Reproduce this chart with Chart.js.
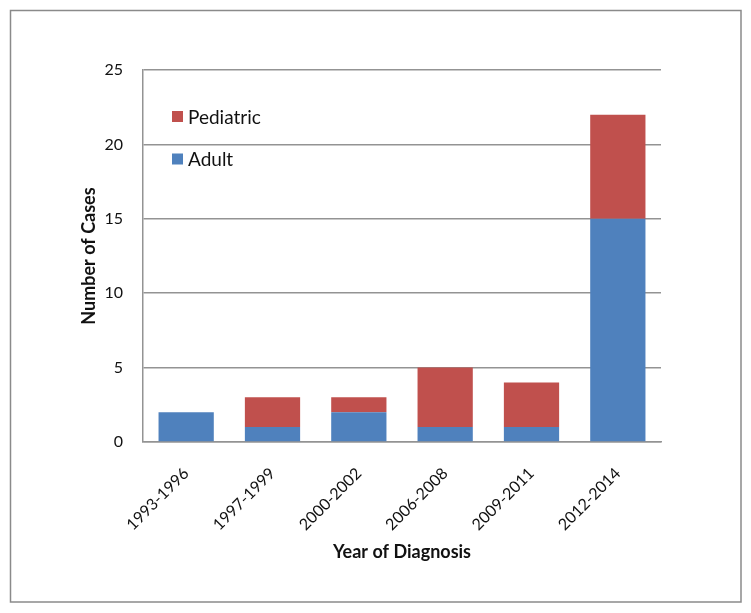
<!DOCTYPE html>
<html>
<head>
<meta charset="utf-8">
<script src="https://cdn.jsdelivr.net/npm/chart.js@4/dist/chart.umd.min.js"></script>
<style>
  html, body { margin: 0; padding: 0; background: #ffffff; }
  #wrap { position: relative; width: 751px; height: 613px; }
</style>
</head>
<body>
<div id="wrap"><canvas id="c" width="751" height="613"></canvas></div>
<script>
// ---- data ----
const categories = ["1993-1996", "1997-1999", "2000-2002", "2006-2008", "2009-2011", "2012-2014"];
const adultCases = [2, 1, 2, 1, 1, 15];
const pediatricCases = [0, 2, 1, 4, 3, 7];
const seriesNames = ["Adult", "Pediatric"];
const seriesColors = ["#4F81BD", "#C0504D"];
const yTicks = [0, 5, 10, 15, 20, 25];

const FONT = "Lato, 'Open Sans', 'Liberation Sans', sans-serif";
const GRID = "#939393";
const TEXT = "#111111";

const framePlugin = {
  id: 'frame',
  beforeDraw(chart) {
    const ctx = chart.ctx;
    ctx.save();
    ctx.fillStyle = '#ffffff';
    ctx.fillRect(0, 0, chart.width, chart.height);
    ctx.strokeStyle = '#8a8a8a';
    ctx.lineWidth = 1.5;
    ctx.strokeRect(10.5, 10.5, 730.5, 591.5);
    ctx.restore();
  }
};

const insideLegend = {
  id: 'insideLegend',
  afterDraw(chart) {
    const ctx = chart.ctx;
    const ds = chart.data.datasets.slice().reverse();
    ctx.save();
    ctx.font = "19px " + FONT;
    ctx.textBaseline = 'middle';
    ctx.textAlign = 'left';
    const x0 = 172, y0 = 116.5, gap = 42.5, box = 11;
    ds.forEach((d, i) => {
      const y = y0 + i * gap;
      ctx.fillStyle = d.backgroundColor;
      ctx.fillRect(x0, y - box / 2, box, box);
      ctx.fillStyle = TEXT;
      ctx.fillText(d.label, x0 + 16, y + 1);
    });
    ctx.restore();
  }
};

new Chart(document.getElementById('c'), {
  type: 'bar',
  data: {
    labels: categories,
    datasets: [
      { label: seriesNames[0], data: adultCases, backgroundColor: seriesColors[0], borderWidth: 0 },
      { label: seriesNames[1], data: pediatricCases, backgroundColor: seriesColors[1], borderWidth: 0 }
    ]
  },
  options: {
    responsive: false,
    animation: false,
    devicePixelRatio: 1,
    layout: { padding: { left: 78.2, top: 70, right: 90, bottom: 50.2 } },
    datasets: { bar: { categoryPercentage: 1.0, barPercentage: 0.64 } },
    plugins: { legend: { display: false }, tooltip: { enabled: false }, title: { display: false } },
    scales: {
      x: {
        stacked: true,
        grid: { display: false, drawTicks: false },
        border: { display: true, color: GRID, width: 1.5 },
        ticks: { color: TEXT, font: { family: FONT, size: 16 }, minRotation: 45, maxRotation: 45, padding: 22, autoSkip: false },
        title: { display: true, text: 'Year of Diagnosis', color: TEXT, font: { family: FONT, size: 18, weight: 'bold' }, padding: 0 },
        afterFit(scale) { scale.height = 120.8; }
      },
      y: {
        stacked: true,
        min: 0, max: 25,
        afterBuildTicks(scale) { scale.ticks = yTicks.map(v => ({ value: v })); },
        grid: { color: GRID, lineWidth: 1.5, drawTicks: false },
        border: { display: true, color: GRID, width: 1.5 },
        ticks: { color: TEXT, font: { family: FONT, size: 16 }, padding: 20 },
        title: { display: true, text: 'Number of Cases', color: TEXT, font: { family: FONT, size: 18, weight: 'bold' }, padding: 0 },
        afterFit(scale) { scale.width = 64.8; }
      }
    }
  },
  plugins: [framePlugin, insideLegend]
});
</script>
</body>
</html>
